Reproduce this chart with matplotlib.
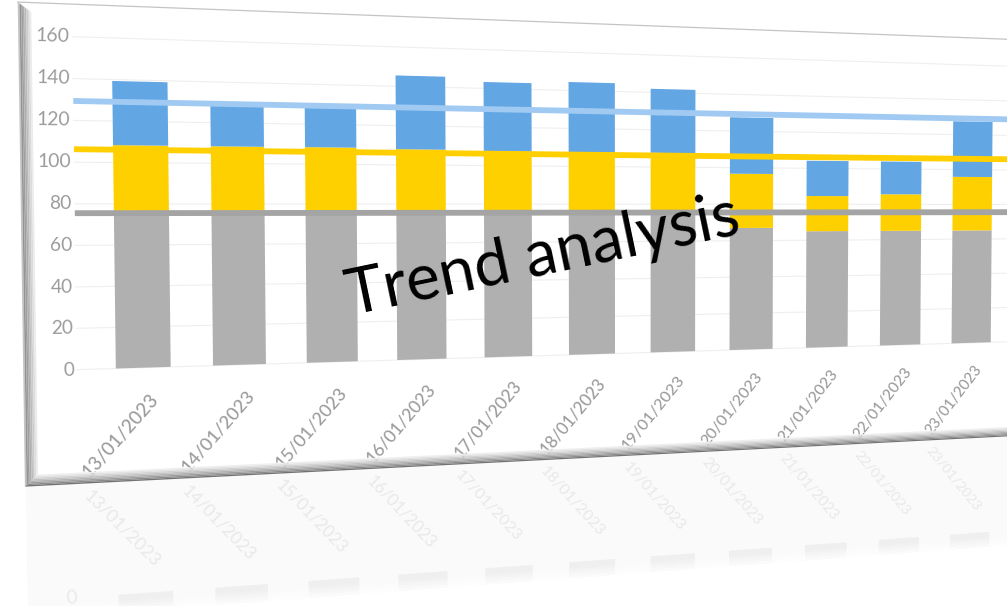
import numpy as np
import matplotlib
matplotlib.use('Agg')
import matplotlib.pyplot as plt
import matplotlib.transforms as mtransforms
from matplotlib.patches import Polygon

# ---------------- data ----------------
dates = ['13/01/2023', '14/01/2023', '15/01/2023', '16/01/2023', '17/01/2023',
         '18/01/2023', '19/01/2023', '20/01/2023', '21/01/2023', '22/01/2023',
         '23/01/2023']
gray_vals = [76, 76, 76, 76, 76, 76, 76, 67, 65, 65, 65]
yellow_vals = [32.4, 32.4, 32.5, 32.0, 31.5, 31.4, 31.6, 29.7, 19.6, 20.7, 30.8]
blue_vals = [30.9, 20.3, 19.9, 37.5, 35.8, 37.0, 34.3, 30.8, 19.6, 18.5, 31.8]
gray_line = 75.5
yellow_line = 106.2
blue_line = 129.3
y_ticks = [0, 20, 40, 60, 80, 100, 120, 140, 160]
title_text = 'Trend analysis'

# ---------------- style / geometry ----------------
FIG_W, FIG_H, DPI = 1007, 606, 100
FONT = ['Lato', 'DejaVu Sans']
C_GRAY, C_YELLOW, C_BLUE = '#B0B0B0', '#FFD000', '#62A6E4'
C_GRAY_L, C_YELLOW_L, C_BLUE_L = '#A4A4A4', '#FFCF00', '#A0CAF2'
BAR_W = 0.56

# perspective (flat chart -> tilted picture)
X0, Y0 = 142.0, 368.0
W_PX, H_PX = 98.3, 2.051
A, G, D = 100.9, 0.01842, 3.82
T_K, Y_REF, X_VP = 2.4e-5, 250.0, 640.0


class Persp(mtransforms.Transform):
    input_dims = 2
    output_dims = 2
    is_separable = False
    has_inverse = False

    def transform_non_affine(self, values):
        v = np.asarray(values, dtype=float).reshape(-1, 2)
        xf = v[:, 0]
        yf = FIG_H - v[:, 1]
        c = (xf - X0) / W_PX
        den = 1.0 + G * c
        xi = (A * c + X0) / den
        yi = (yf + D * c) / den
        dy = yi - Y_REF
        den2 = 1.0 + T_K * dy
        x2 = (xi + X_VP * T_K * dy) / den2
        y2 = (yi + T_K * Y_REF * dy) / den2
        return np.column_stack([x2, FIG_H - y2])


fig = plt.figure(figsize=(FIG_W / DPI, FIG_H / DPI), dpi=DPI)
fig.patch.set_facecolor('white')
cax = fig.add_axes([0, 0, 1, 1])
cax.set_xlim(-X0 / W_PX, (FIG_W - X0) / W_PX)
cax.set_ylim((Y0 - FIG_H) / H_PX, Y0 / H_PX)
cax.axis('off')
PERSP = Persp()
T = cax.transData + PERSP


def local_dir(c, v, du, dv):
    p = cax.transData.transform([(c, v)])
    eps = 5.0
    q = p + eps * np.array([[du, dv]]) / np.hypot(du, dv)
    a = PERSP.transform_non_affine(p)[0]
    b = PERSP.transform_non_affine(q)[0]
    d = b - a
    return np.degrees(np.arctan2(d[1], d[0])), np.hypot(d[0], d[1]) / eps


def poly(cs, vs, color, z, alpha=1.0):
    p = Polygon(np.column_stack([cs, vs]), closed=True, facecolor=color,
                edgecolor='none', lw=0, transform=T, clip_on=False,
                zorder=z, alpha=alpha)
    cax.add_patch(p)


# ---------------- frame (bevel) ----------------
CL_OUT, CL_IN = -1.20, -1.07
V_TOP_OUT, V_TOP_IN = 175.5, 171.0
V_BOT_OUT, V_BOT_IN = -55.5, -50.0
C_RIGHT = 12.5
AX_LEFT = -0.67

# reflection background
poly([CL_OUT + 0.01, C_RIGHT, C_RIGHT, CL_OUT + 0.01],
     [V_BOT_OUT, V_BOT_OUT, -160, -160], '#FAFAFA', 0.5)

left_cols = ['#c4c4c4', '#939393', '#9e9e9e', '#acacac', '#bbbbbb',
             '#cbcbcb', '#dbdbdb', '#ebebeb']
nl = len(left_cols)


def v_bot_diag(c):
    f = (c - CL_OUT) / (CL_IN - CL_OUT)
    return V_BOT_OUT + f * (V_BOT_IN - V_BOT_OUT)


def v_top_diag(c):
    f = (c - CL_OUT) / (CL_IN - CL_OUT)
    return V_TOP_OUT + f * (V_TOP_IN - V_TOP_OUT)


for i, col in enumerate(left_cols):
    c0 = CL_OUT + i * (CL_IN - CL_OUT) / nl
    c1 = CL_OUT + (i + 1) * (CL_IN - CL_OUT) / nl
    poly([c0, c1, c1, c0], [v_bot_diag(c0), v_bot_diag(c1), v_top_diag(c1), v_top_diag(c0)],
         col, 5)

bot_cols = ['#efefef', '#e2e2e2', '#d3d3d3', '#c3c3c3', '#b2b2b2',
            '#a0a0a0', '#8c8c8c', '#737373']
nb = len(bot_cols)


def c_diag(v):
    f = (v - V_BOT_OUT) / (V_BOT_IN - V_BOT_OUT)
    return CL_OUT + f * (CL_IN - CL_OUT)


for j, col in enumerate(bot_cols):
    v1 = V_BOT_IN - j * (V_BOT_IN - V_BOT_OUT) / nb
    v0 = V_BOT_IN - (j + 1) * (V_BOT_IN - V_BOT_OUT) / nb
    poly([c_diag(v0), C_RIGHT, C_RIGHT, c_diag(v1)], [v0, v0, v1, v1], col, 5)

cax.plot([CL_OUT, C_RIGHT], [V_TOP_OUT, V_TOP_OUT], color='#C4C4C4', lw=0.9,
         transform=T, clip_on=False, zorder=5)

# ---------------- gridlines ----------------
for t in y_ticks:
    cax.plot([AX_LEFT, C_RIGHT], [t, t], color='#EFEFEF', lw=0.8,
             transform=T, clip_on=False, zorder=1)

# ---------------- bars ----------------
x = np.arange(len(dates))
bottom_y = np.array(gray_vals, dtype=float)
bottom_b = bottom_y + np.array(yellow_vals, dtype=float)
cax.bar(x, gray_vals, width=BAR_W, color=C_GRAY, transform=T, clip_on=False, zorder=2)
cax.bar(x, yellow_vals, bottom=bottom_y, width=BAR_W, color=C_YELLOW,
        transform=T, clip_on=False, zorder=2)
cax.bar(x, blue_vals, bottom=bottom_b, width=BAR_W, color=C_BLUE,
        transform=T, clip_on=False, zorder=2)

# reference lines
for val, col in [(blue_line, C_BLUE_L), (yellow_line, C_YELLOW_L), (gray_line, C_GRAY_L)]:
    cax.plot([AX_LEFT, C_RIGHT], [val, val], color=col, lw=4.2,
             solid_capstyle='butt', transform=T, clip_on=False, zorder=3)

# ---------------- axis labels ----------------
LBL_COL = '#9C9C9C'
for t in y_ticks:
    ang, sc = local_dir(AX_LEFT - 0.03, t, 1, 0)
    cax.text(AX_LEFT - 0.03, t, str(t), transform=T, ha='right', va='center',
             rotation=ang, rotation_mode='anchor', fontsize=13.5 * sc,
             color=LBL_COL, family=FONT, zorder=4)

XL_DC, XL_V = 0.12, -14.0
XL_DIR = (1.0, 1.08)
for i, d in enumerate(dates):
    ang, sc = local_dir(i + XL_DC, XL_V, *XL_DIR)
    cax.text(i + XL_DC, XL_V, d, transform=T, ha='right', va='center',
             rotation=ang, rotation_mode='anchor', fontsize=13.6 * sc,
             color=LBL_COL, family=FONT, fontweight='medium', zorder=4)

# ---------------- reflection ----------------
REFL_COL = '#EAEAEA'
cax.bar(x, [-g for g in gray_vals], bottom=2 * V_BOT_OUT, width=BAR_W,
        color='#EFEFEF', transform=T, clip_on=False, zorder=0.6)
fade_start = 2 * V_BOT_OUT - 3.0
for k in range(8):
    v1 = fade_start - k * 0.8
    v0 = v1 - 0.8 if k < 7 else -300
    poly([CL_OUT, C_RIGHT, C_RIGHT, CL_OUT], [v0, v0, v1, v1], 'white', 0.7,
         alpha=(k + 1) / 8)
for i, d in enumerate(dates):
    vr = 2 * V_BOT_OUT - XL_V
    ang, sc = local_dir(i + XL_DC, vr, XL_DIR[0], -XL_DIR[1])
    cax.text(i + XL_DC, vr, d, transform=T, ha='right', va='center',
             rotation=ang, rotation_mode='anchor', fontsize=13.6 * sc,
             color=REFL_COL, family=FONT, fontweight='medium', zorder=0.8)
ang, sc = local_dir(AX_LEFT - 0.03, 2 * V_BOT_OUT, 1, 0)
cax.text(AX_LEFT - 0.03, 2 * V_BOT_OUT, '0', transform=T, ha='right', va='center',
         rotation=ang, rotation_mode='anchor', fontsize=13.5 * sc,
         color=REFL_COL, family=FONT, zorder=0.8)

# ---------------- overlay title ----------------
fig.text(547 / FIG_W, 1 - 274 / FIG_H, title_text, fontsize=46, rotation=11.8,
         rotation_mode='anchor', ha='center', va='baseline', color='black',
         family=FONT, zorder=10)

fig.savefig('out.png', dpi=DPI, facecolor='white')
